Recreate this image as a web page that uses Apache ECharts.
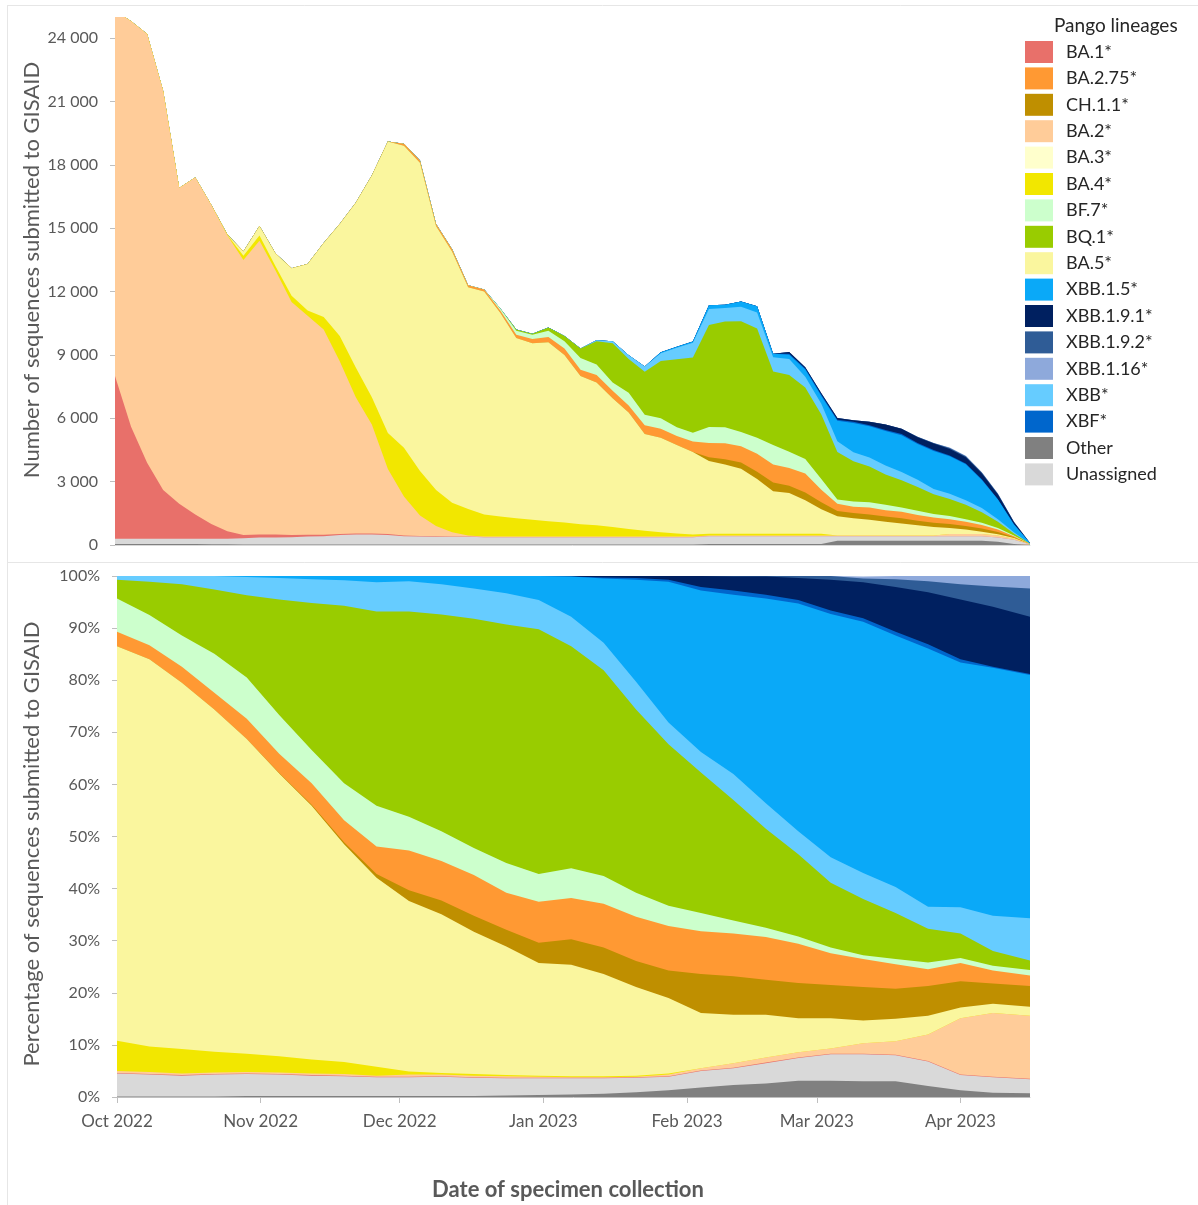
<!DOCTYPE html>
<html><head><meta charset="utf-8">
<script src="https://cdn.jsdelivr.net/npm/echarts@6/dist/echarts.min.js"></script>
<style>html,body{margin:0;padding:0;background:#fff}#chart{width:1198px;height:1205px}</style>
</head><body><div id="chart"></div>
<script>
// ---------- categories ----------
const stackOrder = ['Other','Unassigned','BA.1*','BA.2*','BA.3*','BA.4*','BA.5*','CH.1.1*','BA.2.75*','BF.7*','BQ.1*','XBB*','XBB.1.5*','XBF*','XBB.1.9.1*','XBB.1.9.2*','XBB.1.16*'];
const legendOrder = ['BA.1*','BA.2.75*','CH.1.1*','BA.2*','BA.3*','BA.4*','BF.7*','BQ.1*','BA.5*','XBB.1.5*','XBB.1.9.1*','XBB.1.9.2*','XBB.1.16*','XBB*','XBF*','Other','Unassigned'];
const lineageColors = ['#808080','#D9D9D9','#E8706A','#FFCC99','#FFFFCC','#F2E700','#FAF69E','#BF8F00','#FF9933','#CCFFCC','#99CC00','#66CCFF','#0AA9F8','#0066CC','#002060','#2F5C96','#8EA9DB'];

// ---------- top panel: weekly sample index, number of sequences ----------
const topWeek = [0,1,2,3,4,5,6,7,8,9,10,11,12,13,14,15,16,17,18,19,20,21,22,23,24,25,26,27,28,29,30,31,32,33,34,35,36,37,38,39,40,41,42,43,44,45,46,47,48,49,50,51,52,53,54,55,56,57];
const topOther = [50,50,50,50,50,50,30,30,20,20, 20,20,20,20,20,20,20,20,20,20, 20,20,20,20,20,20,20,20,20,20, 20,20,20,20,20,20,20,50,50,50, 50,50,50,50,50,200,200,200,200,200, 200,200,200,200,200,150,50,0];
const topUnassigned = [250,250,250,250,250,250,270,270,300,330, 330,350,380,400,450,480,480,450,400,380, 370,370,370,350,350,350,350,350,350,350, 350,350,350,350,350,350,350,370,370,370, 370,370,370,370,370,220,220,220,220,220, 220,220,220,220,220,200,200,30];
const topBA1 = [7700,5300,3600,2300,1650,1150,700,350,150,150, 150,100,80,60,50,50,50,50,30,30, 20,10,10,10,10,10,10,10,10,10, 10,10,10,10,10,10,10,0,0,0, 0,0,0,0,0,0,0,0,0,0, 0,0,0,0,0,0,0,0];
const topBA2 = [17300,19200,20300,18900,14950,15950,15100,14000,13030,13900, 12500,11030,10370,9720,8180,6450,5150,3080,1850,970, 490,200,50,20,20,20,20,20,20,20, 20,20,20,20,20,20,20,30,30,30, 30,30,30,30,30,30,30,30,30,30, 30,30,100,100,100,100,50,10];
const topBA3 = [];
const topBA4 = [0,0,0,0,0,0,0,30,200,250, 200,300,250,600,1200,1400,1300,1700,2300,2100, 1700,1400,1250,1050,950,870,800,730,670,580, 530,450,360,280,200,140,100,80,80,80, 80,80,80,80,80,0,0,0,0,0, 0,0,0,0,0,0,0,0];
const topBA5 = [0,0,0,0,0,0,0,20,200,450, 600,1300,2200,3500,5300,7800,10500,13800,14300,14600, 12500,11900,10500,10550,9650,8530,8350,8470,7930,7020, 6770,6100,5510,4570,4480,4200,3900,3450,3280,3080, 2600,2010,1930,1590,1160,910,820,740,650,570, 480,400,280,210,110,60,30,0];
const topCH11 = [0,0,0,0,0,0,0,0,0,0, 0,0,0,0,0,0,0,0,0,0, 0,0,0,0,0,0,0,0,0,0, 0,0,0,0,0,0,0,170,250,300, 340,420,340,370,340,250,250,250,250,250, 220,200,200,170,150,100,40,0];
const topBA275 = [0,0,0,0,0,0,0,0,0,0, 0,0,0,0,0,0,0,0,100,100, 100,100,100,100,100,150,200,250,300,300, 350,350,340,420,420,420,500,680,760,760, 850,850,850,900,590,340,290,340,300,300, 270,250,220,200,170,120,50,5];
const topBF7 = [0,0,0,0,0,0,0,0,0,0, 0,0,0,0,0,0,0,0,0,0, 0,0,0,0,100,200,200,300,350,550, 500,400,600,500,500,420,420,760,760,680, 760,930,760,680,510,200,250,250,250,200, 200,170,150,120,100,70,30,0];
const topBQ1 = [0,0,0,0,0,0,0,0,0,0, 0,0,0,0,0,0,0,0,0,0, 0,0,0,0,0,50,50,150,250,450, 1100,1850,1600,2030,2710,3220,3560,4830,5000,5250, 5170,3470,3640,3390,3050,2250,1910,1690,1440,1300, 1130,930,810,680,500,300,100,10];
const topXBB = [0,0,0,0,0,0,0,0,0,0, 0,0,0,0,0,0,0,0,0,0, 0,0,0,0,0,0,0,0,0,0, 50,100,170,250,370,540,700,760,640,680, 760,680,760,510,510,510,420,420,420,390, 340,250,250,220,200,120,50,5];
const topXBB15 = [0,0,0,0,0,0,0,0,0,0, 0,0,0,0,0,0,0,0,0,0, 0,0,0,0,0,0,0,0,0,0, 0,0,0,0,50,50,60,170,150,250, 290,170,200,340,370,970,1390,1480,1640,1740, 1690,1800,1770,1700,1330,930,370,35];
const topXBF = [0,0,0,0,0,0,0,0,0,0, 0,0,0,0,0,0,0,0,0,0, 0,0,0,0,0,0,0,0,0,0, 0,0,0,0,0,0,0,0,0,0, 0,0,50,50,50,50,50,50,50,50, 50,50,40,40,30,20,10,0];
const topXBB191 = [0,0,0,0,0,0,0,0,0,0, 0,0,0,0,0,0,0,0,0,0, 0,0,0,0,0,0,0,0,0,0, 0,0,0,0,0,0,0,0,0,0, 0,0,80,60,80,80,80,170,250,250, 270,300,300,290,270,220,100,5];
const topXBB192 = [0,0,0,0,0,0,0,0,0,0, 0,0,0,0,0,0,0,0,0,0, 0,0,0,0,0,0,0,0,0,0, 0,0,0,0,0,0,0,0,0,0, 0,0,0,0,0,0,0,0,0,0, 30,30,50,50,50,40,15,0];
const topXBB116 = [0,0,0,0,0,0,0,0,0,0, 0,0,0,0,0,0,0,0,0,0, 0,0,0,0,0,0,0,0,0,0, 0,0,0,0,0,0,0,0,0,0, 0,0,0,0,0,0,0,0,0,0, 0,0,30,30,20,10,5,0];
const countTicks = [0,3000,6000,9000,12000,15000,18000,21000,24000];

// ---------- bottom panel: days since 1 Oct 2022, percentage ----------
const pctDay = [0,7,14,21,28,35,42,49,56,63,70,77,84,91,98,105,112,119,126,133,140,147,154,161,168,175,182,189,197];
const pctOther = [0.1,0.1,0.1,0.1,0.2,0.2,0.2,0.2,0.2,0.2,0.2,0.2,0.3,0.4,0.5,0.6,0.9,1.3,1.8,2.3,2.6,3.1,3.1,3.0,3.0,2.1,1.3,0.8,0.7];
const pctUnassigned = [4.4,4.2,4.0,4.2,4.2,4.1,3.9,3.8,3.6,3.6,3.7,3.5,3.3,3.2,3.1,3.0,2.8,2.6,3.2,3.2,3.9,4.4,5.1,5.2,5.0,4.7,2.9,3.0,2.7];
const pctBA1 = [0.1,0.1,0.1,0.1,0.1,0.1,0.1,0.1,0.1,0.1,0.1,0.1,0.1,0.1,0.1,0.1,0.1,0.1,0.1,0.1,0.1,0.1,0.1,0.1,0.1,0.1,0.1,0.1,0.1];
const pctBA2 = [0.4,0.4,0.3,0.3,0.3,0.3,0.3,0.3,0.2,0.4,0.3,0.3,0.3,0.2,0.1,0.1,0.1,0.3,0.4,0.9,1.0,1.0,1.0,2.0,2.6,5.1,10.8,12.2,12.1];
const pctBA3 = [];
const pctBA4 = [5.8,4.9,4.7,4.0,3.5,3.1,2.7,2.3,1.7,0.6,0.3,0.3,0.2,0.2,0.2,0.2,0.2,0.2,0,0,0,0,0,0,0,0,0,0,0];
const pctBA5 = [75.7,74.3,70.3,65.7,60.4,54.3,48.7,41.8,36.3,32.7,30.5,27.3,24.7,21.6,21.4,19.6,17.0,14.5,10.6,9.3,8.2,6.5,5.8,4.4,4.3,3.6,2.1,1.8,1.7];
const pctCH11 = [0,0,0,0,0,0.1,0.2,0.4,0.7,2.1,2.6,3.1,3.2,3.9,4.9,5.1,5.0,5.3,7.5,7.4,6.7,6.8,6.4,6.4,5.8,5.7,5.0,3.9,4.0];
const pctBA275 = [2.8,2.7,3.1,3.2,3.9,3.7,4.1,4.2,5.3,7.6,7.6,7.8,7.1,7.9,7.9,8.4,8.5,8.5,8.2,8.2,8.2,7.5,6.1,5.4,4.7,3.2,3.5,2.5,2.0];
const pctBF7 = [6.4,5.8,6.0,7.5,7.9,7.4,6.4,7.1,7.8,6.5,5.7,5.2,5.7,5.3,5.7,5.3,4.6,3.9,3.5,2.5,1.8,1.4,1.1,0.7,1.0,1.3,1.0,0.9,1.1];
const pctBQ1 = [3.6,6.4,9.8,12.3,15.8,22.2,28.2,34.1,37.3,39.4,41.6,44.0,45.8,47.0,42.6,39.5,35.2,31.0,27.0,23.1,19.0,15.8,12.4,10.8,8.8,6.5,4.7,2.8,1.8];
const pctXBB = [0.7,1.1,1.6,2.6,3.5,4.1,4.6,4.9,5.6,5.8,5.8,5.8,6.0,5.6,5.7,5.3,5.3,4.2,3.9,5.0,4.9,4.4,4.9,5.0,5.0,4.2,5.0,6.8,8.1];
const pctXBB15 = [0,0,0,0,0.2,0.4,0.6,0.8,1.2,1.0,1.6,2.4,3.3,4.6,7.7,12.3,19.6,27.0,31.0,34.4,39.3,43.7,46.7,48.2,48.3,49.6,47.0,47.6,46.7];
const pctXBF = [0,0,0,0,0,0,0,0,0,0,0,0,0,0,0,0.2,0.3,0.4,0.7,0.8,0.7,0.7,0.7,0.7,0.7,0.8,0.6,0.2,0.2];
const pctXBB191 = [0,0,0,0,0,0,0,0,0,0,0,0,0,0,0.1,0.3,0.4,0.7,2.1,2.7,3.5,4.2,5.9,6.9,8.6,10.0,11.5,11.5,11.0];
const pctXBB192 = [0,0,0,0,0,0,0,0,0,0,0,0,0,0,0,0,0,0,0,0.1,0.1,0.4,0.7,0.7,1.5,2.1,2.9,3.9,5.4];
const pctXBB116 = [0,0,0,0,0,0,0,0,0,0,0,0,0,0,0,0,0,0,0,0,0,0,0,0.4,0.6,1.0,1.6,2.0,2.4];
const monthTickDays = [0,31,61,92,123,151,182];
const monthLabels = ['Oct 2022','Nov 2022','Dec 2022','Jan 2023','Feb 2023','Mar 2023','Apr 2023'];

// ---------- build ----------
const topArrays = [topOther,topUnassigned,topBA1,topBA2,topBA3,topBA4,topBA5,topCH11,topBA275,topBF7,topBQ1,topXBB,topXBB15,topXBF,topXBB191,topXBB192,topXBB116];
const pctArrays = [pctOther,pctUnassigned,pctBA1,pctBA2,pctBA3,pctBA4,pctBA5,pctCH11,pctBA275,pctBF7,pctBQ1,pctXBB,pctXBB15,pctXBF,pctXBB191,pctXBB192,pctXBB116];

function cumulate(arrays, n) {
  const out = []; let run = new Array(n).fill(0);
  arrays.forEach(a => {
    run = run.map((v, i) => Math.round((v + (a.length ? a[i] : 0)) * 1000) / 1000);
    out.push(run.slice());
  });
  return out;
}
const FONT = 'Lato';
function buildSeries(xs, arrays, axisIdx) {
  const cum = cumulate(arrays, xs.length);
  const list = [];
  for (let s = stackOrder.length - 1; s >= 0; s--) {
    const col = lineageColors[s];
    list.push({
      name: stackOrder[s], type: 'line', xAxisIndex: axisIdx, yAxisIndex: axisIdx,
      symbol: 'none', showSymbol: false, silent: true, animation: false,
      data: arrays[s].length ? xs.map((x, i) => [x, cum[s][i]]) : [],
      lineStyle: { width: 0, color: col }, itemStyle: { color: col },
      areaStyle: { color: col, opacity: 1, origin: 'start' },
      emphasis: { disabled: true }
    });
  }
  return list;
}
const grey = '#595959';
function fmtThousands(v) { return v === 0 ? '0' : String(v).replace(/\B(?=(\d{3})+(?!\d))/g, ' '); }

const chart = echarts.init(document.getElementById('chart'), null, { renderer: 'canvas' });
chart.setOption({
  animation: false,
  backgroundColor: '#ffffff',
  textStyle: { fontFamily: FONT },
  title: { text: 'Pango lineages', left: 1054, top: 16, padding: 0, textStyle: { fontFamily: FONT, fontSize: 19, fontWeight: 'normal', color: '#262626' } },
  legend: {
    data: legendOrder, orient: 'vertical', left: 1025, top: 41, padding: 0,
    itemWidth: 28, itemHeight: 22, itemGap: 4.4, icon: 'rect', selectedMode: false,
    textStyle: { fontFamily: FONT, fontSize: 18, color: '#262626', padding: [0, 0, 0, 8] }
  },
  grid: [
    { left: 115, top: 17, width: 915, height: 528 },
    { left: 117, top: 576, width: 913, height: 521 }
  ],
  xAxis: [
    { type: 'value', gridIndex: 0, min: 0, max: 57, axisLine: { show: true, lineStyle: { color: '#D9D9D9', width: 1 } },
      axisTick: { show: false }, axisLabel: { show: false }, splitLine: { show: false } },
    { type: 'value', gridIndex: 1, min: 0, max: 197,
      axisLine: { show: true, lineStyle: { color: '#BFBFBF', width: 1 } },
      axisTick: { show: true, customValues: monthTickDays, length: 6, lineStyle: { color: '#BFBFBF' } },
      axisLabel: { customValues: monthTickDays, margin: 16, fontFamily: FONT, fontSize: 17, color: grey,
        formatter: v => monthLabels[monthTickDays.indexOf(v)] || '' },
      splitLine: { show: false } }
  ],
  yAxis: [
    { type: 'value', gridIndex: 0, min: 0, max: 25000,
      axisLine: { show: false },
      axisTick: { show: true, customValues: countTicks, length: 5, lineStyle: { color: '#BFBFBF' } },
      axisLabel: { customValues: countTicks, margin: 17, fontFamily: FONT, fontSize: 16, color: grey, formatter: fmtThousands },
      splitLine: { show: false } },
    { type: 'value', gridIndex: 1, min: 0, max: 100, interval: 10,
      axisLine: { show: false },
      axisTick: { show: true, length: 5, lineStyle: { color: '#BFBFBF' } },
      axisLabel: { margin: 17, fontFamily: FONT, fontSize: 16, color: grey, formatter: '{value}%' },
      splitLine: { show: false } }
  ],
  graphic: [
    { type: 'line', shape: { x1: 7, y1: 5.5, x2: 1198, y2: 5.5 }, style: { stroke: '#E6E6E6', lineWidth: 1 }, silent: true },
    { type: 'line', shape: { x1: 7.5, y1: 5, x2: 7.5, y2: 1205 }, style: { stroke: '#E6E6E6', lineWidth: 1 }, silent: true },
    { type: 'line', shape: { x1: 7, y1: 562.5, x2: 1198, y2: 562.5 }, style: { stroke: '#E6E6E6', lineWidth: 1 }, silent: true },
    { type: 'text', x: 32, y: 270, rotation: Math.PI / 2, silent: true,
      style: { text: 'Number of sequences submitted to GISAID', fontFamily: FONT, fontSize: 22, fill: grey, textAlign: 'center', textVerticalAlign: 'middle' } },
    { type: 'text', x: 32, y: 844, rotation: Math.PI / 2, silent: true,
      style: { text: 'Percentage of sequences submitted to GISAID', fontFamily: FONT, fontSize: 22, fill: grey, textAlign: 'center', textVerticalAlign: 'middle' } },
    { type: 'text', x: 568, y: 1190, silent: true,
      style: { text: 'Date of specimen collection', fontFamily: FONT, fontSize: 22, fontWeight: 'bold', fill: grey, textAlign: 'center', textVerticalAlign: 'middle' } }
  ],
  series: buildSeries(topWeek, topArrays, 0).concat(buildSeries(pctDay, pctArrays, 1))
});
</script>
</body></html>
